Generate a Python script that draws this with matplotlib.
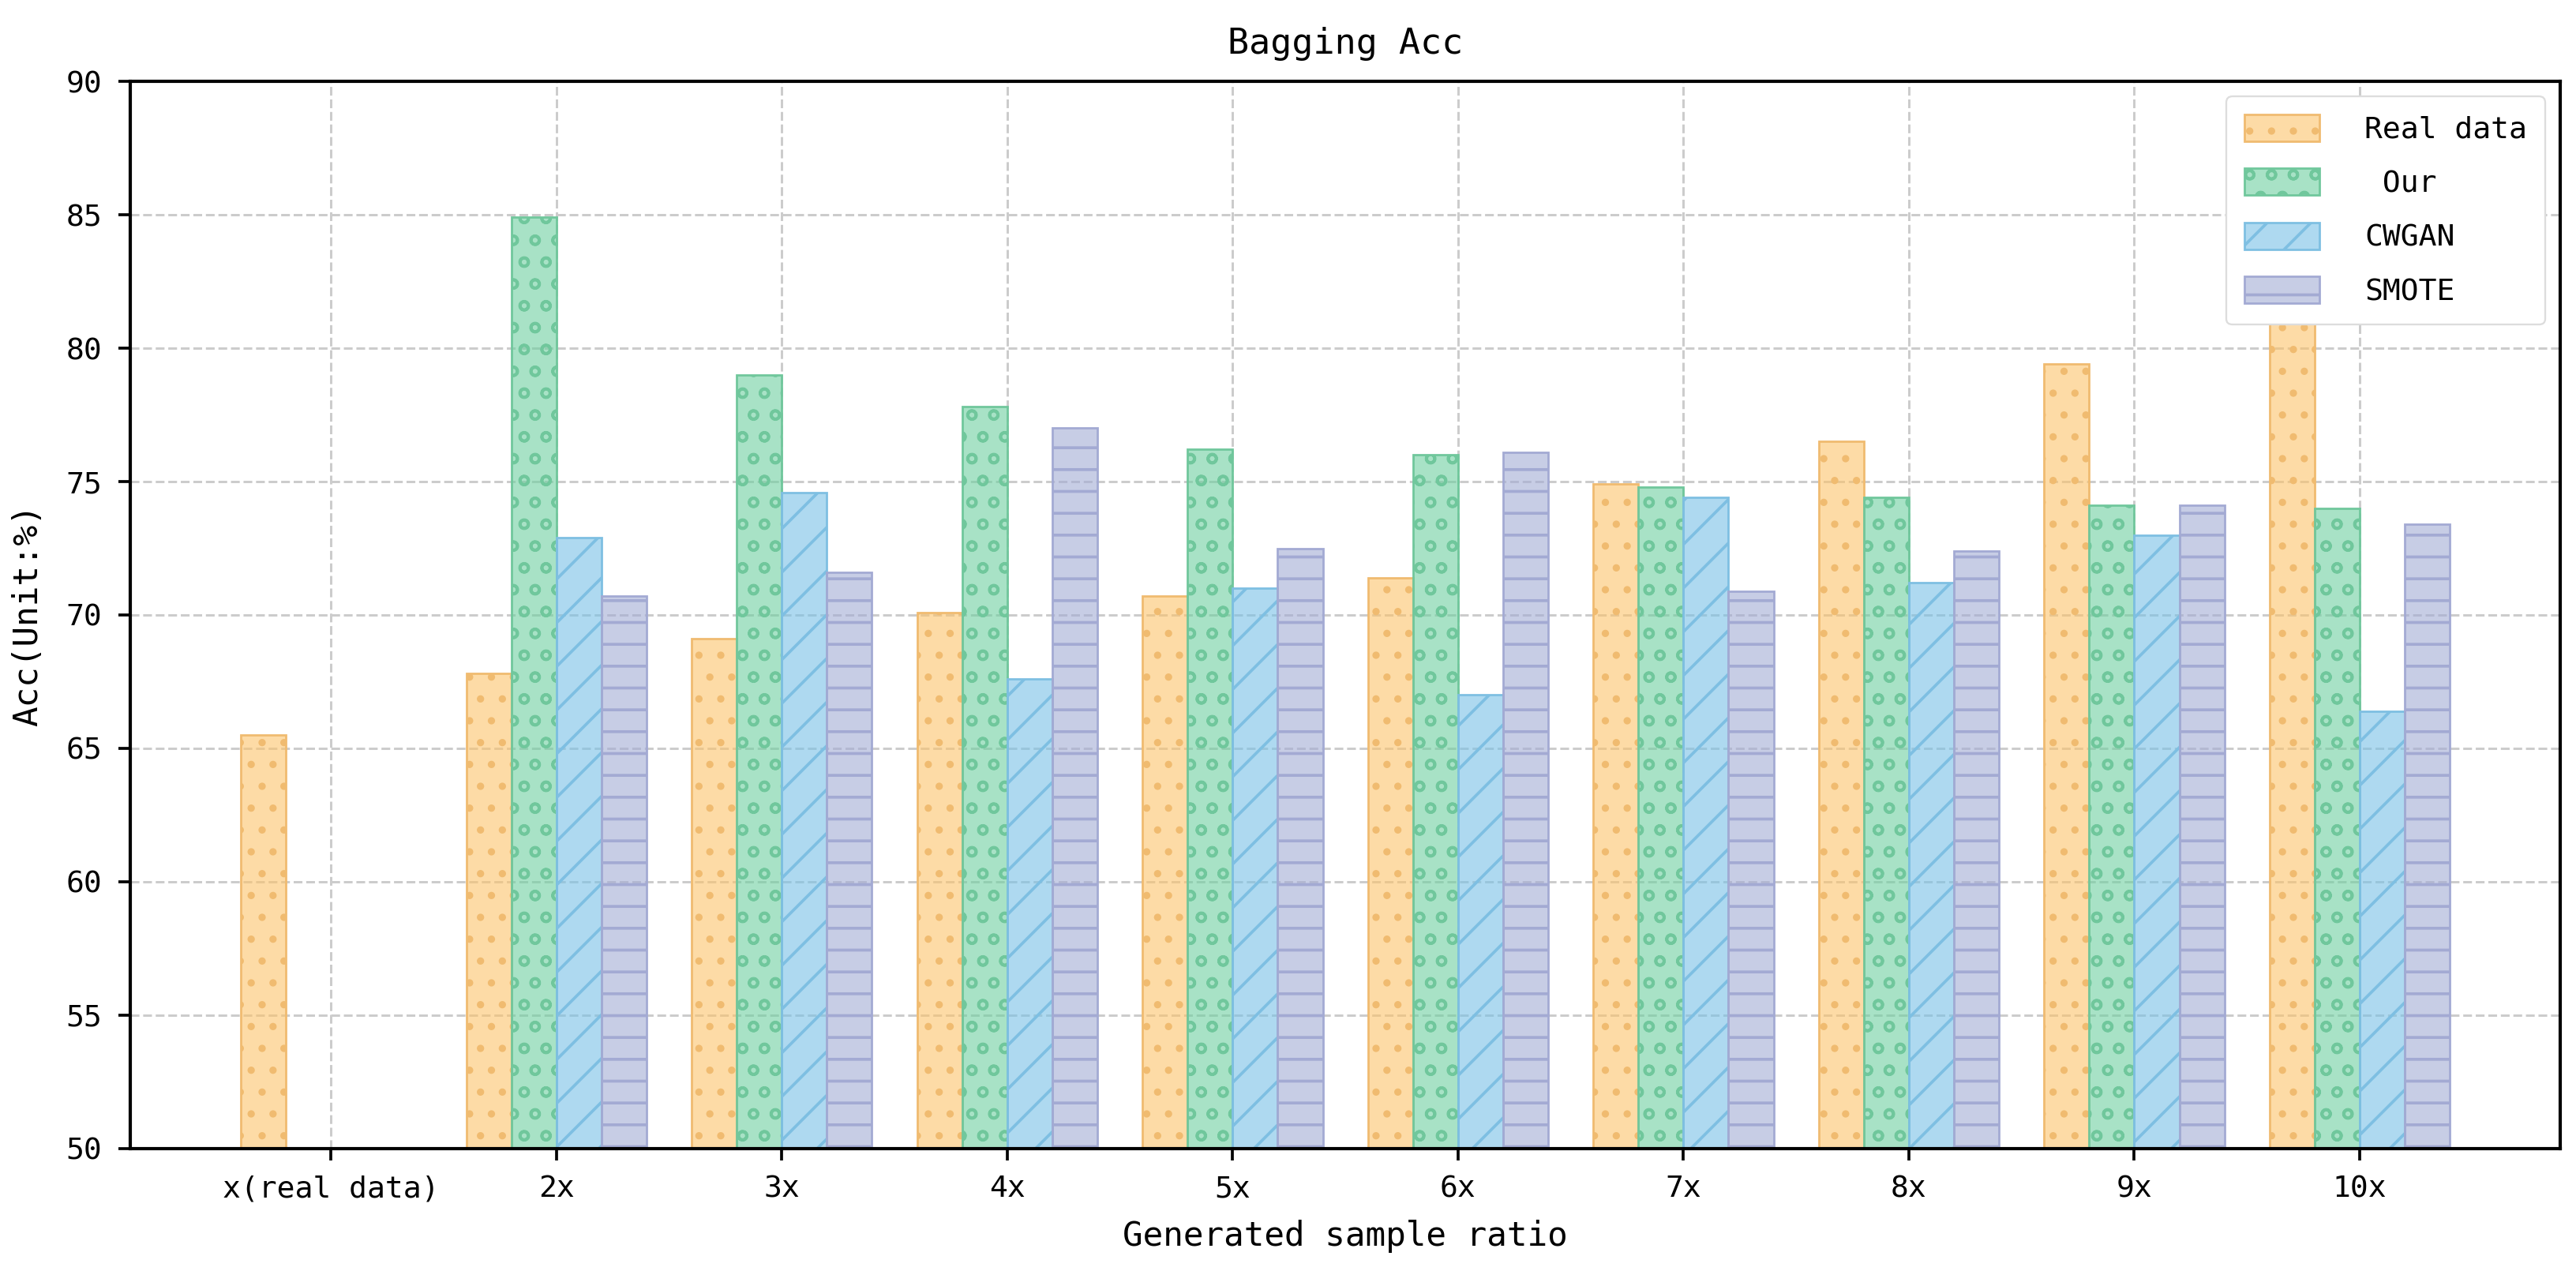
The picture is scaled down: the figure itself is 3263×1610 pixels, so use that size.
import numpy as np
import matplotlib.pyplot as plt
import matplotlib

# Set defaults
matplotlib.rcParams['font.family'] = ['DejaVu Sans Mono', 'Noto Sans CJK SC']
matplotlib.rcParams['axes.linewidth'] = 1.8
matplotlib.rcParams['hatch.linewidth'] = 1.6

# Data
ratios = ['x(real data)', '2x', '3x', '4x', '5x', '6x', '7x', '8x', '9x', '10x']
real_data = [65.5, 67.8, 69.1, 70.1, 70.7, 71.4, 74.9, 76.5, 79.4, 81.2]
our = [np.nan, 84.9, 79.0, 77.8, 76.2, 76.0, 74.8, 74.4, 74.1, 74.0]
cwgan = [np.nan, 72.9, 74.6, 67.6, 71.0, 67.0, 74.4, 71.2, 73.0, 66.4]
smote = [np.nan, 70.7, 71.6, 77.0, 72.5, 76.1, 70.9, 72.4, 74.1, 73.4]

# name, values, fill, edge/hatch colour, hatch
series = [('Real data', real_data, '#FCC36B', '#F0BB70', '.'),
          (' Our', our, '#6ED0A0', '#70C79C', 'o'),
          ('CWGAN', cwgan, '#78C1E6', '#7EBFE2', '/'),
          ('SMOTE', smote, '#A3ACD5', '#A3AAD3', '-')]

dpi = 166
fig = plt.figure(figsize=(3263 / dpi, 1610 / dpi), dpi=dpi)
ax = fig.add_axes([0.0506, 0.0963, 0.9433, 0.8397])

x = np.arange(len(ratios))
width = 0.2
for i, (name, vals, col, ecol, hatch) in enumerate(series):
    face = matplotlib.colors.to_rgba(col, 0.6)
    ax.bar(x + (i - 1.5) * width, np.array(vals) - 50, width, bottom=50,
           facecolor=face, edgecolor=ecol, hatch=hatch, linewidth=1.2,
           label=name, zorder=2)

# Axis limits and ticks
ax.set_ylim(50, 90)
ax.set_yticks(np.arange(50, 91, 5))
ax.set_xlim(-0.89, 9.89)
ax.set_xticks(x)
ax.set_xticklabels(ratios)
ax.tick_params(labelsize=16.5, length=6.5, width=1.6)
ax.tick_params(axis='y', pad=9)
ax.tick_params(axis='x', pad=8)

ax.grid(True, linestyle='--', color='#cccccc', linewidth=1.3, zorder=0)
ax.set_axisbelow(True)

ax.set_title('Bagging Acc', fontsize=19.5, pad=15)
ax.set_xlabel('Generated sample ratio', fontsize=18.5, labelpad=9)
ax.set_ylabel('Acc(Unit:%)', fontsize=18.5, labelpad=12)

ax.legend(loc='upper right', fontsize=16.5, handlelength=2.5, handleheight=1.0,
          handletextpad=1.5, labelspacing=0.8, borderpad=0.6,
          fancybox=True, framealpha=1.0, edgecolor='#dddddd')

fig.savefig('out.png', dpi=dpi)
